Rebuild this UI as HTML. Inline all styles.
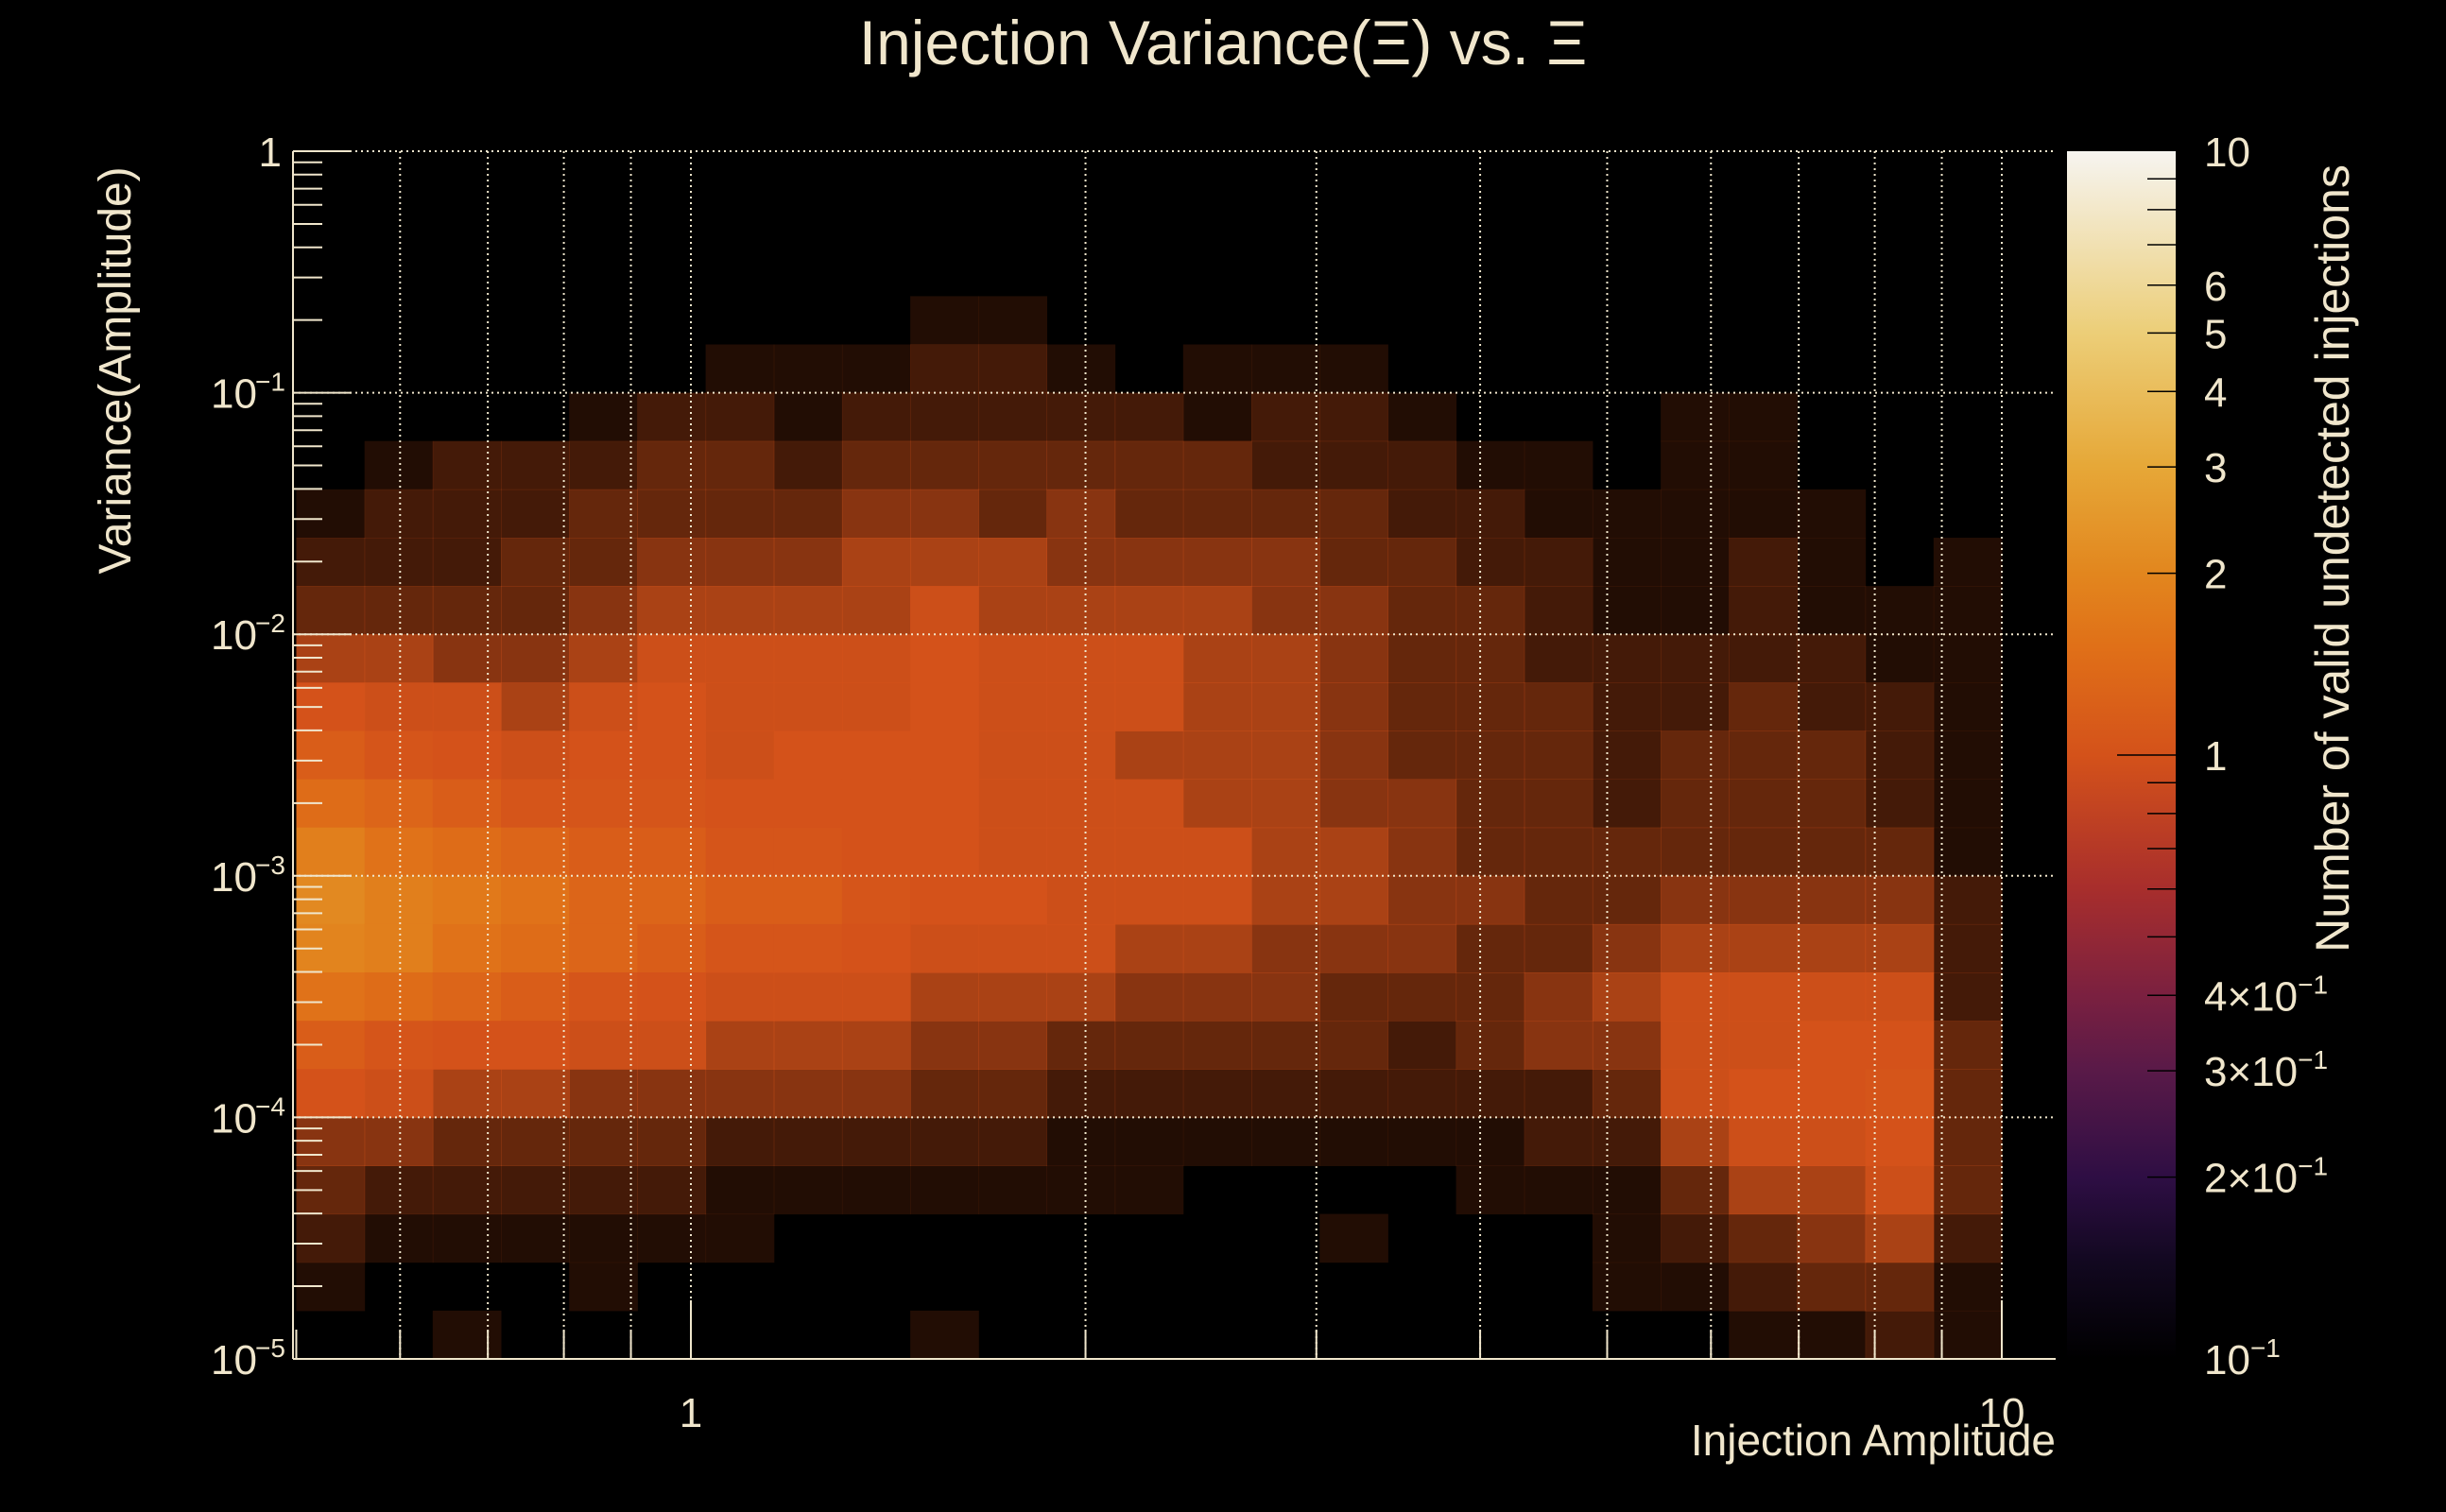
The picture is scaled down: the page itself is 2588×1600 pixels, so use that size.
<!DOCTYPE html>
<html><head><meta charset="utf-8"><style>
html,body{margin:0;padding:0;background:#000;}
svg{display:block;}
text{font-family:"Liberation Sans",sans-serif;fill:#f0e6cc;}
</style></head><body>
<svg id="chart" width="2588" height="1600" viewBox="0 0 2588 1600" xmlns="http://www.w3.org/2000/svg">
<defs>
<linearGradient id="cbar" x1="0" y1="1" x2="0" y2="0">
<stop offset="0" stop-color="#000000"/><stop offset="0.08" stop-color="#120820"/><stop offset="0.15" stop-color="#2e0e44"/><stop offset="0.24" stop-color="#5a1a48"/><stop offset="0.30" stop-color="#7a2040"/><stop offset="0.39" stop-color="#a82e2c"/><stop offset="0.5" stop-color="#d4521a"/><stop offset="0.59" stop-color="#e07018"/><stop offset="0.65" stop-color="#e2861e"/><stop offset="0.74" stop-color="#e6a838"/><stop offset="0.85" stop-color="#ecce78"/><stop offset="1" stop-color="#f6f4f0"/>
</linearGradient>
</defs>
<rect width="2588" height="1600" fill="#000"/>
<g id="cells"></g>
<g id="grid"></g>
<g id="axes"></g>
<text x="1294" y="68" font-size="66" text-anchor="middle">Injection Variance(Ξ) vs. Ξ</text>
<text transform="translate(138,392) rotate(-90)" font-size="48" text-anchor="middle">Variance(Amplitude)</text>
<text x="2175" y="1540" font-size="46" text-anchor="end">Injection Amplitude</text>
<rect x="2187" y="160" width="115" height="1278" fill="url(#cbar)"/>
<g id="cbticks"></g>
<text transform="translate(2485,591) rotate(-90)" font-size="50" text-anchor="middle">Number of valid undetected injections</text>
</svg>
<script>
const xBinRange = [0.5, 10];
const yBinRange = [1e-5, 1];
const xGridValues = [0.6,0.7,0.8,0.9,1,2,3,4,5,6,7,8,9,10];
const xTickLabels = ["1","10"];
const yTickLabels = ["1","10","10","10","10","10"];
const cbTickValues = [10,6,5,4,3,2,1,0.4,0.3,0.2,0.1];
// mean count per fine bin (tenths), rows from top (high variance) to bottom
const meanCounts = [
[0,0,0,0,0,0,0,0,0,0,0,0,0,0,0,0,0,0,0,0,0,0,0,0,0],
[0,0,0,0,0,0,0,0,0,0,0,0,0,0,0,0,0,0,0,0,0,0,0,0,0],
[0,0,0,0,0,0,0,0,0,0,0,0,0,0,0,0,0,0,0,0,0,0,0,0,0],
[0,0,0,0,0,0,0,0,0,1,1,0,0,0,0,0,0,0,0,0,0,0,0,0,0],
[0,0,0,0,0,0,1,1,1,2,2,1,0,1,1,1,0,0,0,0,0,0,0,0,0],
[0,0,0,0,1,2,2,1,2,2,2,2,2,1,2,2,1,0,0,0,1,1,0,0,0],
[0,1,2,2,2,3,3,2,3,3,3,3,3,3,2,2,2,1,1,0,1,1,0,0,0],
[1,2,2,2,3,3,3,3,4,4,3,4,3,3,3,3,2,2,1,1,1,1,1,0,0],
[2,2,2,3,3,4,4,4,5,5,5,4,4,4,4,3,3,2,2,1,1,2,1,0,1],
[3,3,3,3,4,5,5,5,5,6,5,5,5,5,4,4,3,3,2,1,1,2,1,1,1],
[5,5,4,4,5,6,6,6,6,7,6,6,6,5,5,4,3,3,2,2,2,2,2,1,1],
[7,6,6,5,6,7,6,6,6,7,6,6,6,5,5,4,3,3,3,2,2,3,2,2,1],
[9,8,7,6,7,7,6,7,7,7,6,6,5,5,5,4,3,3,3,2,3,3,3,2,1],
[11,10,9,8,8,8,7,7,7,7,6,6,6,5,5,4,4,3,3,2,3,3,3,2,1],
[14,12,11,10,9,9,8,8,7,7,6,6,6,6,5,5,4,3,3,3,3,3,3,3,1],
[16,14,13,12,10,10,9,9,8,7,7,6,6,6,5,5,4,4,3,3,4,4,4,4,2],
[15,14,12,11,10,9,8,8,7,6,6,6,5,5,4,4,4,3,3,4,5,5,5,5,2],
[12,11,10,9,8,7,6,6,6,5,5,5,4,4,4,3,3,3,4,5,6,6,6,6,2],
[9,8,7,7,6,6,5,5,5,4,4,3,3,3,3,3,2,3,4,4,6,6,7,7,3],
[7,6,5,5,4,4,4,4,4,3,3,2,2,2,2,2,2,2,2,3,6,7,7,8,3],
[4,4,3,3,3,3,2,2,2,2,2,1,1,1,1,1,1,1,2,2,5,6,6,7,3],
[3,2,2,2,2,2,1,1,1,1,1,1,1,0,0,0,0,1,1,1,3,5,5,6,3],
[2,1,1,1,1,1,1,0,0,0,0,0,0,0,0,1,0,0,0,1,2,3,4,5,2],
[1,0,0,0,1,0,0,0,0,0,0,0,0,0,0,0,0,0,0,1,1,2,3,3,1],
[0,0,1,0,0,0,0,0,0,1,0,0,0,0,0,0,0,0,0,0,0,1,1,2,1]
];
const NS="http://www.w3.org/2000/svg";
const PL=310, PR=2175, PT=160, PB=1438;
const X1=731, XDEC=1387;
function xs(v){return X1+Math.log10(v)*XDEC;}
function ys(v){return PT+(-Math.log10(v))*(PB-PT)/5;}
const stops=[[0,[0,0,0]],[0.08,[18,8,32]],[0.15,[46,14,68]],[0.24,[90,26,72]],[0.30,[122,32,64]],[0.39,[168,46,44]],[0.5,[212,82,26]],[0.59,[224,112,24]],[0.65,[226,134,30]],[0.74,[230,168,56]],[0.85,[236,206,120]],[1,[246,244,240]]];
function cmap(v){let t=(Math.log10(v)+1)/2;t=Math.max(0,Math.min(1,t));
 for(let i=1;i<stops.length;i++){if(t<=stops[i][0]){const a=stops[i-1],b=stops[i];const f=(t-a[0])/(b[0]-a[0]);
 const c=a[1].map((x,k)=>Math.round(x+(b[1][k]-x)*f));return `rgb(${c[0]},${c[1]},${c[2]})`;}}return "rgb(246,244,240)";}
function mk(tag,attrs,parent){const e=document.createElementNS(NS,tag);for(const k in attrs)e.setAttribute(k,attrs[k]);parent.appendChild(e);return e;}
const cells=document.getElementById('cells');
const nY=meanCounts.length, nX=meanCounts[0].length;
const lx0=Math.log10(xBinRange[0]), lx1=Math.log10(xBinRange[1]);
const ly0=Math.log10(yBinRange[0]), ly1=Math.log10(yBinRange[1]);
for(let r=0;r<nY;r++){for(let c=0;c<nX;c++){
 const v=meanCounts[r][c]/10; if(v<=0) continue;
 const xa=xs(Math.pow(10,lx0+(lx1-lx0)*c/nX)), xb=xs(Math.pow(10,lx0+(lx1-lx0)*(c+1)/nX));
 const ya=ys(Math.pow(10,ly1-(ly1-ly0)*r/nY)), yb=ys(Math.pow(10,ly1-(ly1-ly0)*(r+1)/nY));
 const e=mk('rect',{x:xa.toFixed(1),y:ya.toFixed(1),width:(xb-xa+0.5).toFixed(1),height:(yb-ya+0.5).toFixed(1),fill:cmap(Math.max(v*1.3,1)),'fill-opacity':Math.min(1,v*1.6).toFixed(2)},cells);
 
 
}}
const grid=document.getElementById('grid');
xGridValues.forEach(v=>{const e=mk('line',{x1:xs(v),x2:xs(v),y1:PT,y2:PB,stroke:'#f0e6cc','stroke-width':2,'stroke-dasharray':'2,4'},grid);
 });
for(let d=0;d<5;d++){const y=ys(Math.pow(10,-d));const e=mk('line',{x1:PL,x2:PR,y1:y,y2:y,stroke:'#f0e6cc','stroke-width':2,'stroke-dasharray':'2,4'},grid);
 }
const axes=document.getElementById('axes');
mk('line',{x1:PL,x2:PL,y1:PT,y2:PB,stroke:'#f0e6cc','stroke-width':2},axes);
mk('line',{x1:PL,x2:PR,y1:PB,y2:PB,stroke:'#f0e6cc','stroke-width':2},axes);
for(let d=0;d<5;d++){for(let m=1;m<=9;m++){const v=m*Math.pow(10,-d-1);const y=ys(v);const len=m===1?62:31;
 mk('line',{x1:PL,x2:PL+len,y1:y,y2:y,stroke:'#f0e6cc','stroke-width':2},axes);}}
mk('line',{x1:PL,x2:PL+62,y1:PT,y2:PT,stroke:'#f0e6cc','stroke-width':2},axes);
xGridValues.concat([0.5]).forEach(v=>{const x=xs(v);const len=(v===1||v===10)?62:31;mk('line',{x1:x,x2:x,y1:PB,y2:PB-len,stroke:'#f0e6cc','stroke-width':2},axes);});
[1,10].forEach((v,i)=>{const t=mk('text',{x:xs(v),y:1510,'font-size':44,'text-anchor':'middle'},axes);t.textContent=xTickLabels[i];
 });
yTickLabels.forEach((lab,d)=>{const y=ys(Math.pow(10,-d));const t=mk('text',{x:d===0?298:272,y:y+16,'font-size':44,'text-anchor':'end'},axes);t.textContent=lab;
 
 if(d>0){const s=mk('text',{x:270,y:y-2,'font-size':28,'text-anchor':'start'},axes);s.textContent='−'+d;
 }});
const cbt=document.getElementById('cbticks');
function cby(v){return PB-(Math.log10(v)+1)/2*(PB-PT);}
for(let d=-1;d<1;d++){for(let m=1;m<=9;m++){const v=m*Math.pow(10,d);if(v<0.1)continue;const y=cby(v);
 mk('line',{x1:v===1?2240:2272,x2:2302,y1:y,y2:y,stroke:'#000','stroke-width':1.5},cbt);}}
cbTickValues.forEach(v=>{const y=cby(v);const t=mk('text',{x:2332,y:y+16,'font-size':44},cbt);
 
 if(v>=1){t.textContent=String(v);}else{const m=Math.round(v*10);t.textContent=(m===1?'':m+'×')+'10';
 const s=mk('tspan',{dy:-18,'font-size':28},t);s.textContent='−1';}});
</script>
</body></html>
